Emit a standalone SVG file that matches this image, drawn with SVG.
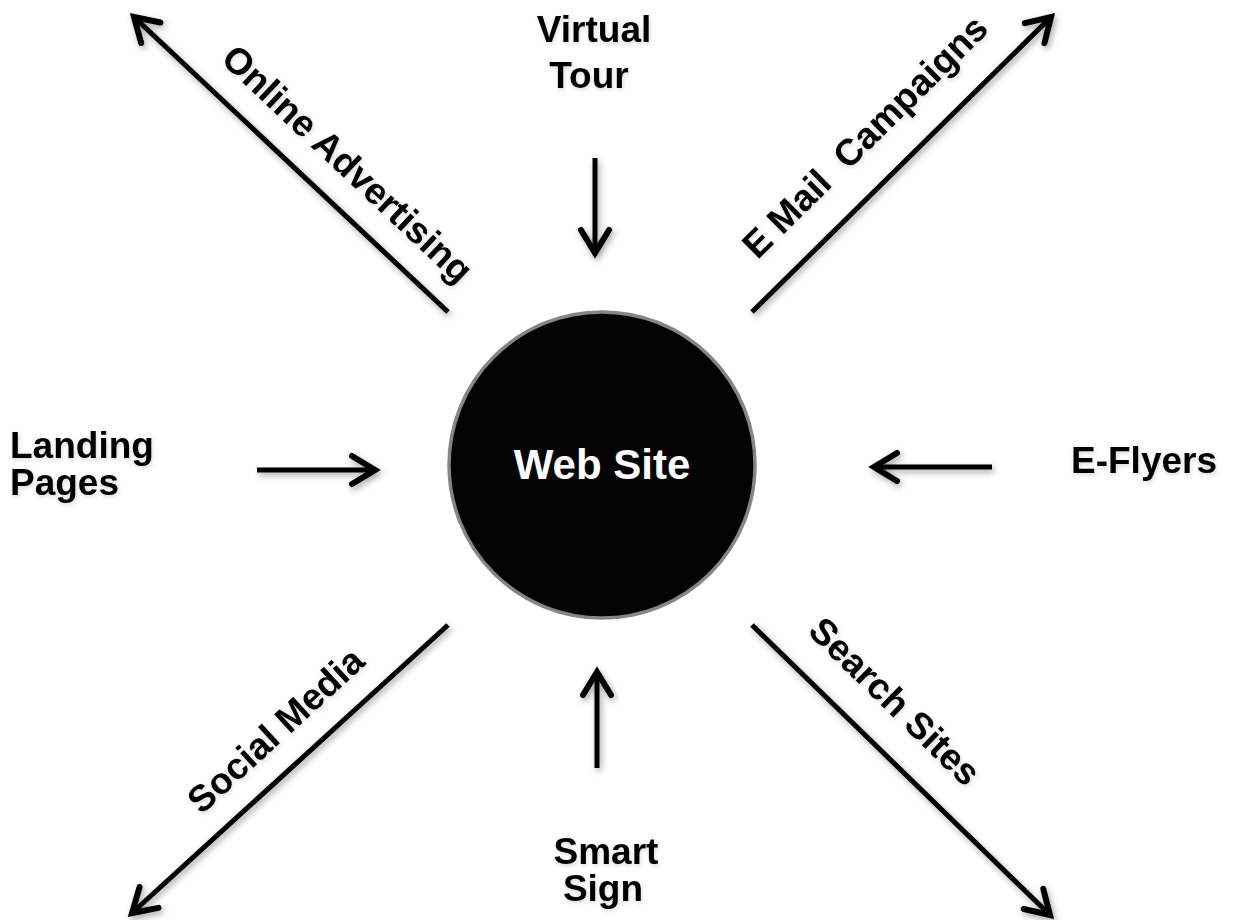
<svg xmlns="http://www.w3.org/2000/svg" width="1239" height="920" viewBox="0 0 1239 920">
<style>
.lbl{font-family:"Liberation Sans",Arial,sans-serif;font-weight:bold;font-size:37px;fill:#000;}
.conn{stroke:#000;stroke-width:5;fill:none;stroke-linecap:butt;}
.ctr{font-family:"Liberation Sans",Arial,sans-serif;font-weight:bold;font-size:42px;fill:#fff;}
</style>
<defs>
<filter id="sh" x="-30%" y="-30%" width="160%" height="160%">
<feDropShadow dx="2" dy="3" stdDeviation="3" flood-color="#000" flood-opacity="0.35"/>
</filter>
<filter id="tsh" x="-10%" y="-30%" width="120%" height="160%">
<feDropShadow dx="1" dy="2" stdDeviation="2" flood-color="#000" flood-opacity="0.15"/>
</filter>
<marker id="ah" markerUnits="userSpaceOnUse" markerWidth="40" markerHeight="40" viewBox="-30 -20 40 40" refX="0" refY="0" orient="auto" overflow="visible">
<path d="M-23,-14 L0,0 L-23,14" fill="none" stroke="#000" stroke-width="6" stroke-linecap="round" stroke-linejoin="miter"/>
</marker>
</defs>
<rect width="1239" height="920" fill="#fff"/>

<g id="connectors" filter="url(#sh)">
<path class="conn" d="M448,312 L134,17" marker-end="url(#ah)"/>
<path class="conn" d="M752,312 L1051,17" marker-end="url(#ah)"/>
<path class="conn" d="M448,625 L132,913" marker-end="url(#ah)"/>
<path class="conn" d="M752,625 L1050,915" marker-end="url(#ah)"/>
<path class="conn" d="M595,158 L595,253" marker-end="url(#ah)"/>
<path class="conn" d="M597,768 L597,672" marker-end="url(#ah)"/>
<path class="conn" d="M257,470 L375,470" marker-end="url(#ah)"/>
<path class="conn" d="M992,467 L874,467" marker-end="url(#ah)"/>
</g>

<g id="web-site">
<circle cx="602" cy="465" r="153" fill="#030303" stroke="#858585" stroke-width="3.5"/>
<text class="ctr" x="602" y="479" text-anchor="middle">Web Site</text>
</g>

<g id="online-advertising" filter="url(#tsh)">
<text class="lbl" transform="translate(321,192) rotate(43.2)" x="0" y="-26" text-anchor="middle">Online Advertising</text>
</g>
<g id="email-campaigns" filter="url(#tsh)">
<text class="lbl" transform="translate(897,169) rotate(-44.6)" x="0" y="-33" text-anchor="middle" xml:space="preserve">E Mail  Campaigns</text>
</g>
<g id="social-media" filter="url(#tsh)">
<text class="lbl" transform="translate(301,758) rotate(-42.5)" x="0" y="-25" text-anchor="middle">Social Media</text>
</g>
<g id="search-sites" filter="url(#tsh)">
<text class="lbl" transform="translate(863,734) rotate(44.3)" x="0" y="-33" text-anchor="middle">Search Sites</text>
</g>
<g id="virtual-tour" filter="url(#tsh)">
<text class="lbl" x="594" y="42" text-anchor="middle">Virtual</text>
<text class="lbl" x="589" y="88" text-anchor="middle">Tour</text>
</g>
<g id="smart-sign" filter="url(#tsh)">
<text class="lbl" x="606" y="864" text-anchor="middle">Smart</text>
<text class="lbl" x="603" y="901" text-anchor="middle">Sign</text>
</g>
<g id="landing-pages" filter="url(#tsh)">
<text class="lbl" x="10" y="458">Landing</text>
<text class="lbl" x="10" y="495">Pages</text>
</g>
<g id="e-flyers" filter="url(#tsh)">
<text class="lbl" x="1071" y="473">E-Flyers</text>
</g>
</svg>
